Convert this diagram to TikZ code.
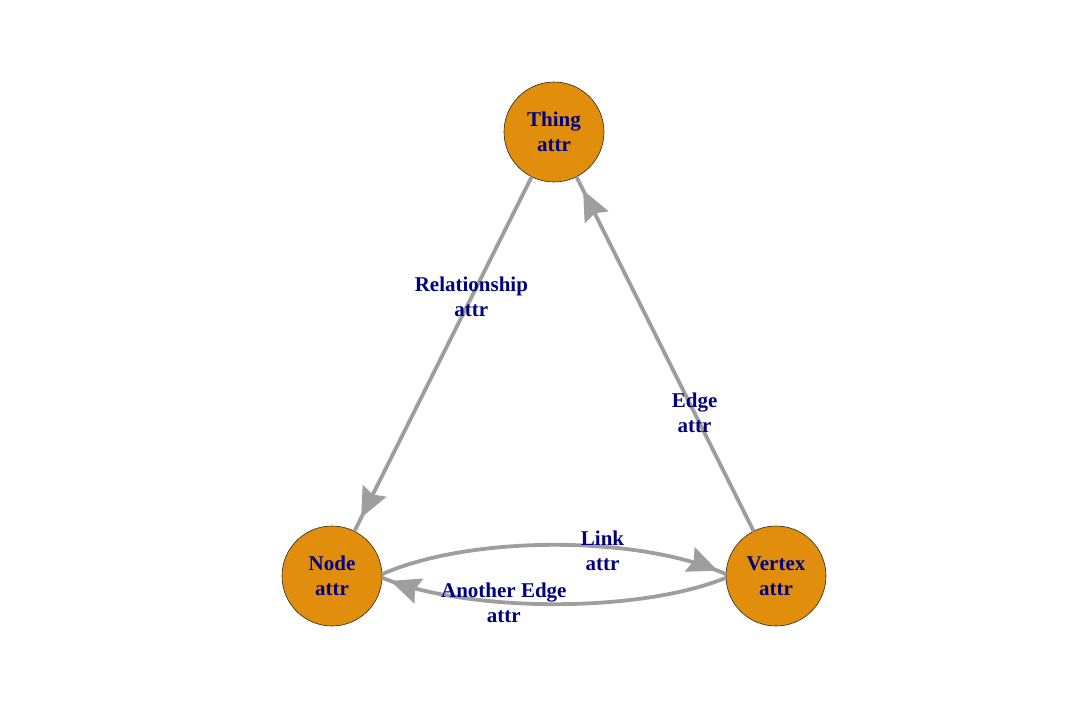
\documentclass[tikz,border=0pt]{standalone}
\usepackage{fontspec}
\setmainfont{Liberation Serif}
\usetikzlibrary{arrows.meta,decorations.markings}
\definecolor{vfill}{RGB}{224,142,11}
\definecolor{lblue}{RGB}{0,0,128}
\definecolor{egray}{RGB}{158,158,158}
\begin{document}
\begin{tikzpicture}[x=1pt,y=-1pt,
  vtx/.style={circle,draw=black!85,line width=0.6pt,fill=vfill,minimum size=100pt,
    inner sep=0pt,outer sep=0pt,align=center,
    font=\fontsize{21}{25}\selectfont\bfseries,text=lblue},
  elab/.style={align=center,inner sep=0pt,
    font=\fontsize{21}{25}\selectfont\bfseries,text=lblue},
  conn/.style={draw=egray,line width=3.8pt,postaction={decorate},
    decoration={markings,mark=at position #1 with
      {\arrow{Stealth[length=30pt,width=26pt,inset=4pt]}}}}
]
\useasboundingbox (0,0) rectangle (1080,720);
\node[vtx] (th) at (554,132) {Thing\\attr};
\node[vtx] (nd) at (332,576) {Node\\attr};
\node[vtx] (vx) at (776,576) {Vertex\\attr};
\draw[conn=-15pt] (th) -- node[elab,pos=0.34] (l1) {Relationship\\attr} (nd);
\draw[conn=-15pt] (vx) -- node[elab,pos=0.333] (l2) {Edge\\attr} (th);
\draw[conn=-9pt] (nd.2) .. controls (470,535) and (640,535) ..
  node[elab,pos=0.625,yshift=-4pt] (l3) {Link\\attr} (vx.178);
\draw[conn=-9pt] (vx.182) .. controls (640,613) and (470,613) ..
  node[elab,pos=0.633] (l4) {Another Edge\\attr} (nd.-2);
\end{tikzpicture}
\end{document}
